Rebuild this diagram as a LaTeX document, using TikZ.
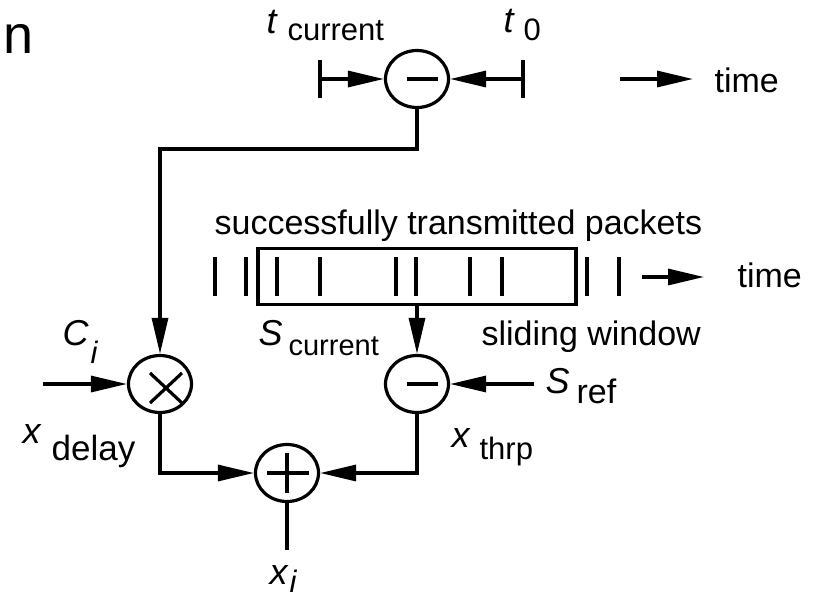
\documentclass[tikz,border=0pt]{standalone}
\usepackage{fontspec}
\setmainfont{Liberation Sans}
\usetikzlibrary{arrows.meta,shapes.geometric}

\newcommand{\sublbl}[4]{{\fontsize{36}{38}\selectfont\itshape #1}\hspace{#4}\raisebox{-#3}{#2}}

\begin{document}
\begin{tikzpicture}[
  x=1pt, y=-1pt,
  line width=3.2pt,
  arrow/.style = {-{Triangle[length=36pt,width=16pt]}},
  op/.style = {draw, ellipse, minimum width=63pt, minimum height=57pt, inner sep=0pt},
  txt/.style = {anchor=base west, inner sep=0pt, font=\fontsize{34}{40}\selectfont},
  var/.style = {anchor=base west, inner sep=0pt, font=\fontsize{31}{33}\selectfont}]
  \useasboundingbox (0,0) rectangle (817,598);

  % operacie
  \node[op] (diffT) at (417,79) {};
  \node[op] (mul) at (160,384) {};
  \node[op] (diffS) at (417,384) {};
  \node[op] (sum) at (287,473) {};

  % znamienka
  \draw (diffT.center) ++(-10,0) -- ++(31,0);
  \draw (diffS.center) ++(-10,0) -- ++(31,0);
  \draw (mul.center) ++(-10,-11) -- ++(32,30);
  \draw (mul.center) ++(22,-11) -- ++(-32,30);
  \draw (sum.center) ++(-20,0) -- ++(42,0);
  \draw (sum.center) ++(0,-20) -- ++(0,40);

  % casova os hore
  \coordinate (tc) at (320,79);
  \coordinate (tz) at (523,79);
  \draw (tc) ++(0,-19) -- ++(0,38);
  \draw (tz) ++(0,-19) -- ++(0,38);
  \draw[arrow] (tc) -- (diffT);
  \draw[arrow] (tz) -- (diffT);
  \coordinate (ta1) at (620,79);
  \coordinate (ta2) at (693,79);
  \draw[arrow] (ta1) -- (ta2);
  \node[txt] (timeA) at (713,92) {time};

  % pakety a posuvne okno
  \node[draw, minimum width=318pt, minimum height=56pt, inner sep=0pt] (win) at (417,276.5) {};
  \foreach \x in {215,246,277,320,396,416,470,502,587,619}
    \draw (\x,257) -- (\x,296);
  \coordinate (tb1) at (642,277);
  \coordinate (tb2) at (704,277);
  \draw[arrow] (tb1) -- (tb2);
  \node[txt] (timeB) at (736,287) {time};
  \node[txt] (pkts) at (213,234) {successfully transmitted packets};
  \node[txt] (slide) at (480,345) {sliding window};

  % vstupy a vystup
  \coordinate (xin) at (43,384);
  \coordinate (sref) at (534,384);
  \coordinate (xout) at (287,550);
  \coordinate (turnT) at (417,149);

  % spojenia
  \draw[arrow] (diffT) -- (turnT) -| (mul);
  \draw[arrow] (win) -- (diffS);
  \draw[arrow] (xin) -- (mul);
  \draw[arrow] (sref) -- (diffS);
  \draw[arrow] (mul) |- (sum);
  \draw[arrow] (diffS) |- (sum);
  \draw (sum) -- (xout);

  % popisy
  \node[txt, font=\fontsize{54}{56}\selectfont] (cut) at (2,53) {n};
  \node[var] (tcur) at (265,33) {\sublbl{t}{current}{7pt}{11pt}};
  \node[var] (tzero) at (502,32) {\sublbl{t}{0}{8pt}{10pt}};
  \node[var, font=\fontsize{29}{31}\selectfont] (scur) at (257,345) {\sublbl{S}{current}{10pt}{6pt}};
  \node[var, font=\fontsize{34}{36}\selectfont] (sreflbl) at (544,393) {\sublbl{S}{ref}{10pt}{7pt}};
  \node[var] (ci) at (61,345) {\sublbl{C}{\textit{i}}{18pt}{2pt}};
  \node[var, font=\fontsize{35}{37}\selectfont] (xdel) at (21,443) {\sublbl{x}{delay}{17pt}{11pt}};
  \node[var] (xthr) at (450,447) {\sublbl{x}{thrp}{12pt}{10pt}};
  \node[var] (xi) at (268,584) {\sublbl{x}{\textit{i}}{8pt}{2pt}};

\end{tikzpicture}
\end{document}
